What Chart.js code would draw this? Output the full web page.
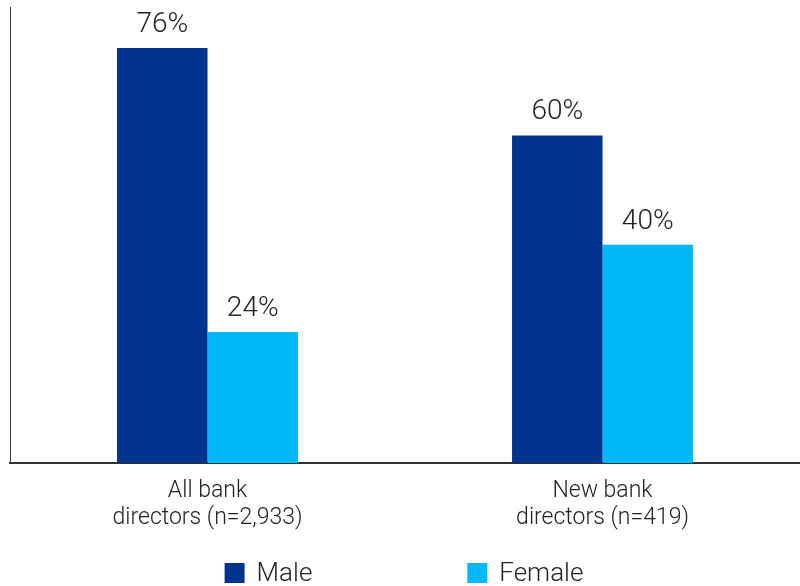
<!DOCTYPE html>
<html>
<head>
<meta charset="utf-8">
<script src="https://cdn.jsdelivr.net/npm/chart.js@4.4.1/dist/chart.umd.min.js"></script>
<style>
    html, body { margin: 0; padding: 0; background: #fff; overflow: hidden; }
    #wrap { width: 800px; height: 586px; }
</style>
</head>
<body>
<div id="wrap"><canvas id="boardChart"></canvas></div>
<script>
/* ==========================================
   Board composition by gender
========================================== */

const categories = [
    ["All bank", "directors (n=2,933)"],
    ["New bank", "directors (n=419)"]
];

const maleShare = [76, 60];
const femaleShare = [24, 40];

const seriesNames = ["Male", "Female"];

const FONT = "Roboto, 'Liberation Sans', sans-serif";
const TEXT = "#222";

/* value labels above each bar */
const barValueLabels = {
    id: "barValueLabels",
    afterDatasetsDraw(chart) {
        const ctx = chart.ctx;
        ctx.save();
        ctx.font = "300 28px " + FONT;
        ctx.fillStyle = TEXT;
        ctx.textAlign = "center";
        ctx.textBaseline = "alphabetic";
        chart.data.datasets.forEach((ds, i) => {
            chart.getDatasetMeta(i).data.forEach((bar, j) => {
                ctx.fillText(ds.data[j] + "%", bar.x, bar.y - 16);
            });
        });
        ctx.restore();
    }
};

/* legend row along the bottom, wide gap between the two keys */
const bottomKeys = {
    id: "bottomKeys",
    afterDraw(chart) {
        const ctx = chart.ctx;
        const box = 20, gapText = 12, gapItem = 155;
        const top = 563;
        ctx.save();
        ctx.font = "300 26px " + FONT;
        ctx.textBaseline = "middle";
        ctx.textAlign = "left";

        const items = chart.data.datasets.map(ds => ({
            label: ds.label,
            color: ds.backgroundColor,
            w: box + gapText + ctx.measureText(ds.label).width
        }));
        const total = items.reduce((s, it) => s + it.w, 0) + gapItem * (items.length - 1);
        let x = (chart.width - total) / 2 + 4;

        items.forEach(it => {
            ctx.fillStyle = it.color;
            ctx.fillRect(x, top, box, box);
            ctx.fillStyle = TEXT;
            ctx.fillText(it.label, x + box + gapText, top + box / 2 + 1);
            x += it.w + gapItem;
        });
        ctx.restore();
    }
};

new Chart(document.getElementById("boardChart"), {
    type: "bar",
    data: {
        labels: categories,
        datasets: [
            {
                label: seriesNames[0],
                data: maleShare,
                backgroundColor: "#00338D",
                barPercentage: 1,
                categoryPercentage: 0.458
            },
            {
                label: seriesNames[1],
                data: femaleShare,
                backgroundColor: "#00B8F5",
                barPercentage: 1,
                categoryPercentage: 0.458
            }
        ]
    },
    options: {
        responsive: true,
        maintainAspectRatio: false,
        animation: false,
        layout: {
            padding: { top: 7, left: 10, right: 0, bottom: 39 }
        },
        plugins: {
            legend: { display: false },
            tooltip: { enabled: false }
        },
        scales: {
            x: {
                grid: { display: false, drawTicks: false },
                border: { color: "#333", width: 2 },
                ticks: {
                    color: TEXT,
                    padding: 15,
                    font: { family: FONT, size: 23, weight: 300, lineHeight: 1.17 }
                }
            },
            y: {
                min: 0,
                max: 83.5,
                grid: { display: false, drawTicks: false },
                border: { color: "#333", width: 1 },
                ticks: { display: false }
            }
        }
    },
    plugins: [barValueLabels, bottomKeys]
});
</script>
</body>
</html>
